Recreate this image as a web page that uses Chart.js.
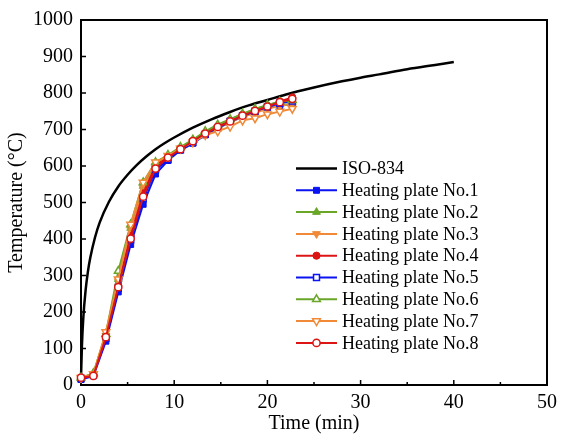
<!DOCTYPE html>
<html>
<head>
<meta charset="utf-8">
<script src="https://cdn.jsdelivr.net/npm/chart.js@4.4.1/dist/chart.umd.min.js"></script>
<style>
  html, body { margin: 0; padding: 0; background: #fff; }
</style>
</head>
<body>
<canvas id="chart" width="563" height="441"></canvas>
<script>
/* ── data ── */
const isoTime = [0, 0.1, 0.25, 0.5, 0.75, 1, 1.5, 2, 3, 4, 5, 6, 7, 8, 9, 10, 12, 14, 16, 18, 20, 22, 25, 28, 30, 32, 35, 38, 40];
const isoTemp = [20, 108, 185, 261, 312, 349, 404, 445, 502, 544, 576, 603, 626, 646, 663, 678, 705, 728, 748, 766, 781, 796, 815, 832, 842, 851, 865, 877, 885];

const plateTime = [0, 1.33, 2.67, 4, 5.33, 6.67, 8, 9.33, 10.67, 12, 13.33, 14.67, 16, 17.33, 18.67, 20, 21.33, 22.67];
const plate1 = [15, 25, 120, 255, 385, 495, 578, 615, 643, 662, 685, 703, 720, 735, 748, 760, 765, 770];
const plate2 = [20, 30, 138, 290, 430, 545, 605, 628, 650, 670, 693, 712, 727, 742, 755, 766, 774, 775];
const plate3 = [18, 28, 135, 285, 425, 540, 600, 625, 648, 667, 688, 706, 720, 735, 746, 757, 765, 770];
const plate4 = [18, 27, 135, 272, 408, 525, 600, 625, 648, 668, 690, 708, 725, 740, 752, 765, 777, 788];
const plate5 = [18, 28, 128, 265, 398, 510, 590, 618, 645, 665, 687, 705, 722, 737, 750, 762, 772, 778];
const plate6 = [20, 32, 140, 312, 440, 555, 610, 630, 652, 672, 695, 713, 728, 743, 756, 767, 776, 780];
const plate7 = [20, 30, 145, 290, 440, 555, 610, 628, 648, 665, 685, 695, 708, 725, 731, 742, 749, 757];
const plate8 = [20, 25, 131, 268, 401, 516, 593, 623, 646, 668, 689, 707, 722, 738, 751, 763, 775, 784];

const xTicks = [0, 10, 20, 30, 40, 50];
const yTicks = [0, 100, 200, 300, 400, 500, 600, 700, 800, 900, 1000];

const BLUE = '#0a14f0', GREEN = '#6aa628', ORANGE = '#f08a38', RED = '#dc1414';
const SERIF = "'Liberation Serif', 'DejaVu Serif', serif";

const toXY = (xs, ys) => xs.map((x, i) => ({ x, y: ys[i] }));

function plate(label, ys, color, style, rot, open, idx) {
  return {
    label,
    data: toXY(plateTime, ys),
    borderColor: color,
    borderWidth: 2,
    backgroundColor: open ? '#ffffff' : color,
    pointBackgroundColor: open ? '#ffffff' : color,
    pointBorderColor: color,
    pointBorderWidth: open ? 1.5 : 1,
    pointStyle: style,
    pointRotation: rot,
    pointRadius: style === 'rect' ? 4.2 : (style === 'triangle' ? 4.5 : 3.6),
    tension: 0,
    clip: 8,
    order: -idx
  };
}

const datasets = [
  {
    label: 'ISO-834',
    data: toXY(isoTime, isoTemp),
    borderColor: '#000',
    borderWidth: 2.5,
    pointRadius: 0,
    cubicInterpolationMode: 'monotone',
    clip: 8,
    order: 0
  },
  plate('Heating plate No.1', plate1, BLUE,   'rect',     0,   false, 1),
  plate('Heating plate No.2', plate2, GREEN,  'triangle', 0,   false, 2),
  plate('Heating plate No.3', plate3, ORANGE, 'triangle', 180, false, 3),
  plate('Heating plate No.4', plate4, RED,    'circle',   0,   false, 4),
  plate('Heating plate No.5', plate5, BLUE,   'rect',     0,   true,  5),
  plate('Heating plate No.6', plate6, GREEN,  'triangle', 0,   true,  6),
  plate('Heating plate No.7', plate7, ORANGE, 'triangle', 180, true,  7),
  plate('Heating plate No.8', plate8, RED,    'circle',   0,   true,  8)
];

/* ── frame + inward ticks ── */
const framePlugin = {
  id: 'frame',
  beforeDatasetsDraw(chart) {
    const { ctx, chartArea: a, scales: { x, y } } = chart;
    ctx.save();
    ctx.strokeStyle = '#000';
    ctx.lineWidth = 2;
    ctx.strokeRect(a.left, a.top, a.right - a.left, a.bottom - a.top);
    ctx.lineWidth = 1.5;
    ctx.beginPath();
    for (let v = 5; v < 50; v += 5) {
      const px = x.getPixelForValue(v);
      const len = v % 10 === 0 ? 5 : 3;
      ctx.moveTo(px, a.bottom);
      ctx.lineTo(px, a.bottom - len);
    }
    yTicks.slice(1, -1).forEach(v => {
      const py = y.getPixelForValue(v);
      ctx.moveTo(a.left, py);
      ctx.lineTo(a.left + 5, py);
    });
    ctx.stroke();
    ctx.restore();
  }
};

/* ── legend inside plot ── */
function marker(ctx, ds, cx, cy) {
  const r = ds.pointRadius;
  ctx.fillStyle = ds.pointBackgroundColor;
  ctx.strokeStyle = ds.pointBorderColor;
  ctx.lineWidth = ds.pointBorderWidth;
  ctx.beginPath();
  if (ds.pointStyle === 'circle') {
    ctx.arc(cx, cy, r, 0, Math.PI * 2);
  } else if (ds.pointStyle === 'rect') {
    const s = r * Math.SQRT1_2;
    ctx.rect(cx - s, cy - s, 2 * s, 2 * s);
  } else {
    const d = ds.pointRotation === 180 ? -1 : 1;
    ctx.moveTo(cx, cy - d * r);
    ctx.lineTo(cx + r * 0.866, cy + d * r * 0.5);
    ctx.lineTo(cx - r * 0.866, cy + d * r * 0.5);
    ctx.closePath();
  }
  ctx.fill();
  ctx.stroke();
}

const legendPlugin = {
  id: 'insideLegend',
  afterDatasetsDraw(chart) {
    const { ctx } = chart;
    const x0 = 296, x1 = 337, tx = 342, top = 168.5, gap = 21.8;
    ctx.save();
    ctx.font = '18px ' + SERIF;
    ctx.textBaseline = 'middle';
    chart.data.datasets.forEach((ds, i) => {
      const yy = top + i * gap;
      ctx.strokeStyle = ds.borderColor;
      ctx.lineWidth = ds.borderWidth;
      ctx.beginPath();
      ctx.moveTo(x0, yy);
      ctx.lineTo(x1, yy);
      ctx.stroke();
      if (ds.pointRadius) marker(ctx, ds, (x0 + x1) / 2, yy);
      ctx.fillStyle = '#000';
      ctx.fillText(ds.label, tx, yy + 1);
    });
    ctx.restore();
  }
};

new Chart(document.getElementById('chart'), {
  type: 'line',
  data: { datasets },
  options: {
    responsive: false,
    animation: false,
    layout: { padding: { top: 18, right: 13, left: 0, bottom: 0 } },
    plugins: {
      legend: { display: false },
      tooltip: { enabled: false }
    },
    scales: {
      x: {
        type: 'linear',
        min: 0, max: 50,
        afterFit: s => { s.height = 56; },
        afterBuildTicks: s => { s.ticks = xTicks.map(v => ({ value: v })); },
        grid: { display: false, drawTicks: false },
        border: { display: false },
        ticks: {
          color: '#000', padding: 6, maxRotation: 0,
          font: { family: SERIF, size: 20 },
          callback: v => String(v)
        },
        title: {
          display: true, text: 'Time (min)', color: '#000',
          padding: { top: 0, bottom: 5 },
          font: { family: SERIF, size: 20 }
        }
      },
      y: {
        min: 0, max: 1000,
        afterFit: s => { s.width = 81; },
        afterBuildTicks: s => { s.ticks = yTicks.map(v => ({ value: v })); },
        grid: { display: false, drawTicks: false },
        border: { display: false },
        ticks: {
          color: '#000', padding: 8,
          font: { family: SERIF, size: 20 },
          callback: v => String(v)
        },
        title: {
          display: true, text: 'Temperature (°C)', color: '#000',
          padding: { top: 5, bottom: 0 },
          font: { family: SERIF, size: 20 }
        }
      }
    }
  },
  plugins: [framePlugin, legendPlugin]
});
</script>
</body>
</html>
